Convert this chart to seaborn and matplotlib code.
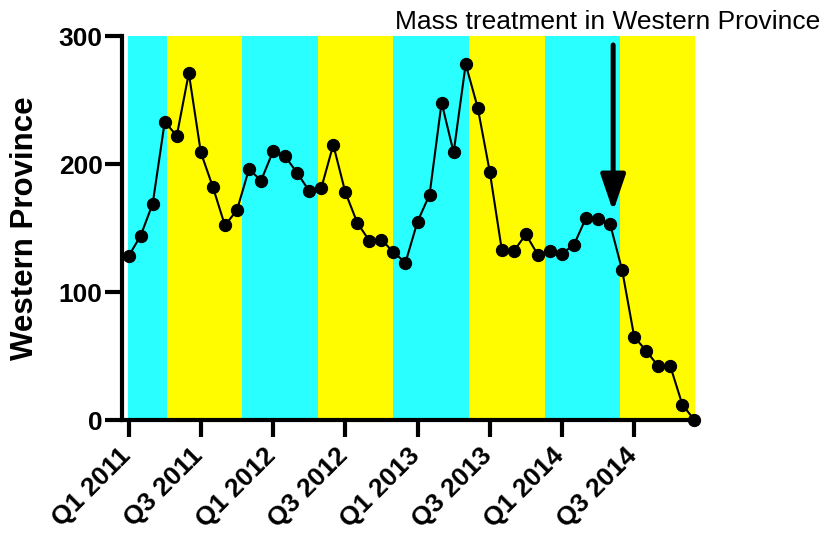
import matplotlib
matplotlib.use("Agg")
import numpy as np
import pandas as pd
import matplotlib.pyplot as plt
import matplotlib.transforms as mtransforms
import seaborn as sns

# monthly counts, Jan 2011 - Dec 2014
months = np.arange(48)
cases = [128, 144, 169, 233, 222, 271, 209, 182, 152, 164, 196, 187,
         210, 206, 193, 179, 181, 215, 178, 154, 140, 141, 131, 123,
         155, 176, 248, 209, 278, 244, 194, 133, 132, 145, 129, 132,
         130, 137, 158, 157, 153, 117, 65, 54, 42, 42, 12, 0]

tick_pos = [0, 6, 12, 18, 24, 30, 36, 42]
tick_labels = ["Q1 2011", "Q3 2011", "Q1 2012", "Q3 2012",
               "Q1 2013", "Q3 2013", "Q1 2014", "Q3 2014"]

# background season bands (in month index units)
band_edges = [-0.08, 3.15, 9.46, 15.77, 21.99, 28.3, 34.6, 40.83, 47.05]
band_colors = ["#29FFFF", "#FFFC00"]

arrow_x = 40.25
arrow_from, arrow_to = 293, 163
note = "Mass treatment in Western Province"

df = pd.DataFrame({"month": months, "cases": cases})

sns.set_style("ticks", {"axes.edgecolor": "black", "text.color": "black",
                        "xtick.color": "black", "ytick.color": "black",
                        "axes.labelcolor": "black"})
plt.rcParams["font.family"] = ["Liberation Sans", "DejaVu Sans"]

fig = plt.figure(figsize=(8.24, 5.33), dpi=100)
ax = fig.add_axes([122 / 824, 1 - 420 / 533, (695 - 122) / 824, (420 - 36) / 533])

# Shaded bands
for i in range(len(band_edges) - 1):
    ax.axvspan(band_edges[i], band_edges[i + 1], color=band_colors[i % 2], lw=0, zorder=0)

sns.lineplot(data=df, x="month", y="cases", ax=ax, color="black", lw=1.5,
             marker="o", markersize=8.8, markeredgecolor="black", clip_on=False, zorder=3)

ax.annotate("", xy=(arrow_x, arrow_to), xytext=(arrow_x, arrow_from),
            arrowprops=dict(arrowstyle="-|>,head_length=2.2,head_width=0.75",
                            mutation_scale=10, lw=3.6, color="black",
                            shrinkA=0, shrinkB=0), zorder=4)

fig.text(820 / 824, 1 - 22 / 533, note, ha="right", va="center", fontsize=19)

ax.set_xlim(-0.55, 47.05)
ax.set_ylim(0, 300)
ax.set_yticks([0, 100, 200, 300])
ax.set_xticks(tick_pos)
ax.set_xticklabels(tick_labels, rotation=45, ha="right", rotation_mode="anchor")
ax.tick_params(axis="both", length=12, width=3, pad=2)
ax.tick_params(axis="y", labelsize=19)
ax.tick_params(axis="x", labelsize=19)

shift = mtransforms.ScaledTranslation(-0.1, -0.04, fig.dpi_scale_trans)
for lab in ax.get_xticklabels():
    lab.set_fontweight("bold")
    lab.set_transform(lab.get_transform() + shift)
for lab in ax.get_yticklabels():
    lab.set_fontweight("bold")

ax.set_xlabel("")
ax.set_ylabel("Western Province", fontsize=22.5, fontweight="bold")
ax.yaxis.set_label_coords(-0.143, 0.5)

ax.spines["top"].set_visible(False)
ax.spines["right"].set_visible(False)
ax.spines["left"].set_linewidth(3)
ax.spines["bottom"].set_linewidth(3)
ax.grid(False)

fig.savefig("out.png", dpi=100)
